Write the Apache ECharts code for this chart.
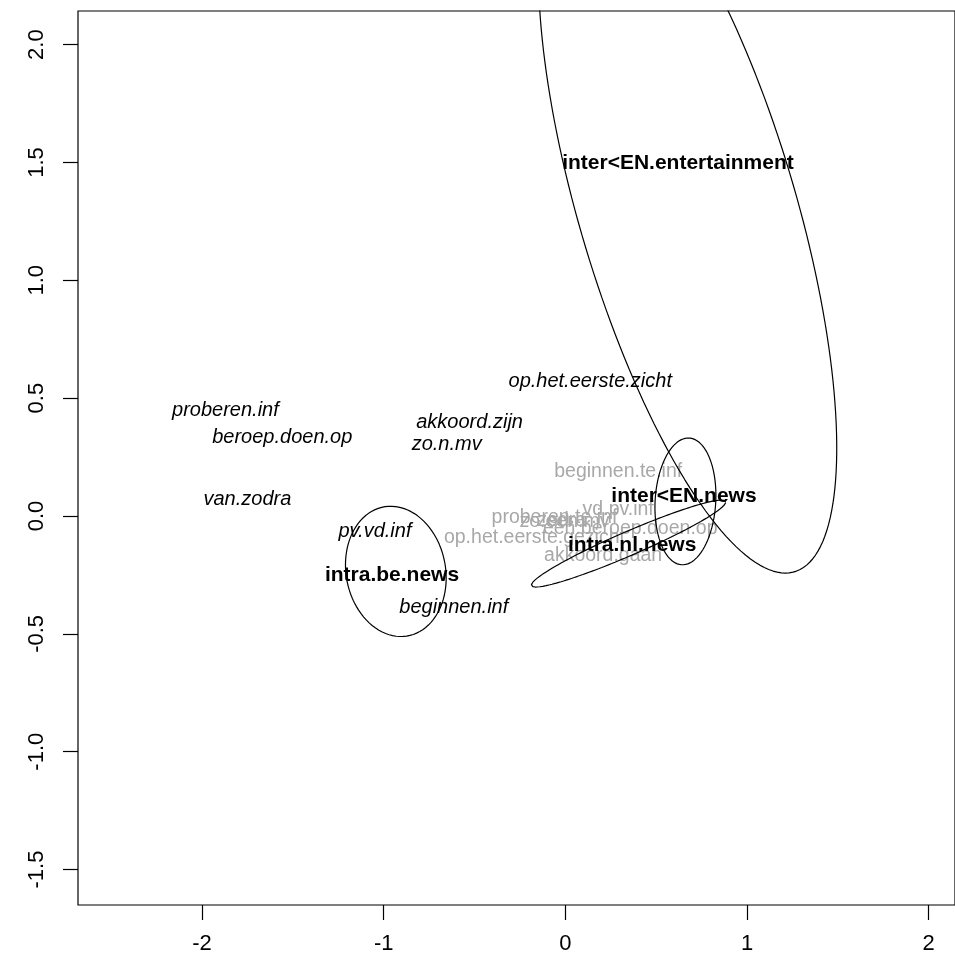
<!DOCTYPE html>
<html>
<head>
<meta charset="utf-8">
<script src="https://cdn.jsdelivr.net/npm/echarts@6/dist/echarts.min.js"></script>
<style>
  html, body { margin: 0; padding: 0; background: #fff; }
  #chart { width: 955px; height: 967px; }
</style>
</head>
<body>
<div id="chart"></div>
<script>
// Tick positions
var xTicks = [-2, -1, 0, 1, 2];
var yTicks = [-1.5, -1.0, -0.5, 0.0, 0.5, 1.0, 1.5, 2.0];

// Group centroids (bold labels)
var groupNames = ['inter<EN.entertainment', 'inter<EN.news', 'intra.nl.news', 'intra.be.news'];
var groupX = [0.620, 0.653, 0.368, -0.954];
var groupY = [1.497, 0.085, -0.123, -0.250];

// Variables shown in italics
var varNames = ['op.het.eerste.zicht', 'proberen.inf', 'beroep.doen.op', 'akkoord.zijn',
                'zo.n.mv', 'van.zodra', 'pv.vd.inf', 'beginnen.inf'];
var varX = [0.137, -1.871, -1.558, -0.527, -0.653, -1.750, -1.048, -0.614];
var varY = [0.573, 0.450, 0.335, 0.399, 0.305, 0.072, -0.064, -0.390];

// Variables shown in grey
var greyNames = ['beginnen.te.inf', 'vd.pv.inf', 'proberen.te.inf', 'zodra', 'zo.een.mv',
                 'een.beroep.doen.op', 'op.het.eerste.gezicht', 'akkoord.gaan'];
var greyX = [0.291, 0.291, -0.060, -0.020, -0.005, 0.357, -0.170, 0.208];
var greyY = [0.187, 0.025, -0.008, -0.018, -0.024, -0.055, -0.093, -0.170];

// Confidence ellipses per group: centre and two conjugate semi-axis vectors
var ellipseCX = [0.673, 0.661, 0.348, -0.933];
var ellipseCY = [1.298, 0.062, -0.117, -0.235];
var ellipseUX = [0.538, 0.016, 0.535, 0.008];
var ellipseUY = [-1.540, 0.269, 0.176, 0.274];
var ellipseVX = [0.620, 0.167, 0.000, 0.277];
var ellipseVY = [0.000, 0.000, 0.055, -0.036];

function ellipsePoints(i) {
  var pts = [];
  var n = 180;
  for (var k = 0; k <= n; k++) {
    var t = 2 * Math.PI * k / n;
    pts.push([
      ellipseCX[i] + ellipseUX[i] * Math.cos(t) + ellipseVX[i] * Math.sin(t),
      ellipseCY[i] + ellipseUY[i] * Math.cos(t) + ellipseVY[i] * Math.sin(t)
    ]);
  }
  return pts;
}

function zip(names, xs, ys) {
  return names.map(function (n, i) { return { name: n, value: [xs[i], ys[i]] }; });
}

var FONT = '"Liberation Sans", Arial, sans-serif';

function textSeries(data, style, z) {
  return {
    type: 'scatter',
    data: data,
    symbolSize: 0,
    z: z,
    silent: true,
    itemStyle: { opacity: 1 },
    label: Object.assign({
      show: true,
      position: 'inside',
      formatter: '{b}',
      fontFamily: FONT,
      opacity: 1
    }, style)
  };
}

var series = [];
for (var i = 0; i < ellipseCX.length; i++) {
  series.push({
    type: 'line',
    data: ellipsePoints(i),
    showSymbol: false,
    symbol: 'none',
    smooth: false,
    clip: true,
    silent: true,
    z: 3,
    lineStyle: { color: '#000', width: 1.2 }
  });
}
series.push(textSeries(zip(greyNames, greyX, greyY), { color: '#a8a8a8', fontSize: 19.5 }, 2));
series.push(textSeries(zip(varNames, varX, varY), { color: '#000', fontSize: 20, fontStyle: 'italic' }, 4));
series.push(textSeries(zip(groupNames, groupX, groupY), { color: '#000', fontSize: 21, fontWeight: 'bold' }, 5));

var chart = echarts.init(document.getElementById('chart'), null, { renderer: 'canvas' });
chart.setOption({
  animation: false,
  backgroundColor: '#fff',
  grid: {
    left: 78, top: 11, width: 880, height: 894,
    show: true, borderColor: '#000', borderWidth: 1.2, backgroundColor: 'transparent'
  },
  xAxis: {
    type: 'value',
    min: -2.6824, max: 2.1448,
    axisLine: { show: false, onZero: false },
    splitLine: { show: false },
    axisTick: { show: true, customValues: xTicks, length: 15, lineStyle: { color: '#000', width: 1.2 } },
    axisLabel: {
      customValues: xTicks, margin: 28, color: '#000', fontSize: 22, fontFamily: FONT,
      formatter: function (v) { return String(Math.round(v)); }
    }
  },
  yAxis: {
    type: 'value',
    min: -1.6504, max: 2.1426,
    axisLine: { show: false, onZero: false },
    splitLine: { show: false },
    axisTick: { show: true, customValues: yTicks, length: 15, lineStyle: { color: '#000', width: 1.2 } },
    axisLabel: {
      customValues: yTicks, margin: 30, rotate: 90, color: '#000', fontSize: 22, fontFamily: FONT,
      formatter: function (v) { return v.toFixed(1); }
    }
  },
  series: series
});
</script>
</body>
</html>
